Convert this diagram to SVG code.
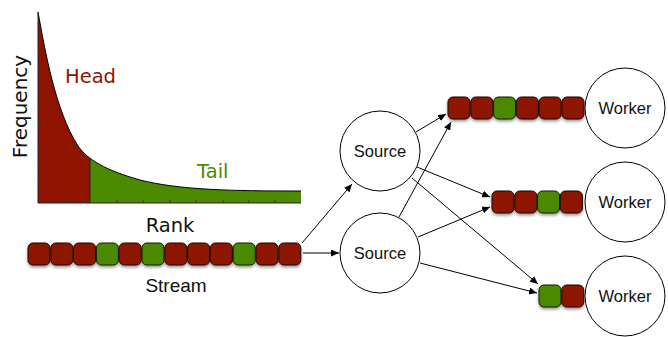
<svg xmlns="http://www.w3.org/2000/svg" width="668" height="337" viewBox="0 0 668 337">
<defs>
<style>
.r{fill:#8e1400;stroke:#1a0800;stroke-width:1}
.g{fill:#4c8a00;stroke:#0f1a00;stroke-width:1}
.node{fill:#fff;stroke:#000;stroke-width:1}
.lbl{font-family:"Liberation Sans",Arial,sans-serif;font-size:16.5px;fill:#111;text-anchor:middle}
.ch{font-family:"DejaVu Sans",sans-serif;font-size:19.5px}
.edge{stroke:#000;stroke-width:1;fill:none;marker-end:url(#ah)}
.tick{stroke:#333;stroke-width:1}
</style>
<marker id="ah" markerUnits="userSpaceOnUse" markerWidth="9" markerHeight="7" refX="8" refY="3.5" orient="auto">
<path d="M0,0 L8,3.5 L0,7 z" fill="#000"/>
</marker>
<filter id="sh" x="-20%" y="-20%" width="140%" height="160%">
<feDropShadow dx="0" dy="2" stdDeviation="1.5" flood-color="#000" flood-opacity="0.4"/>
</filter>
<clipPath id="ch"><rect x="38" y="0" width="52" height="210"/></clipPath>
<clipPath id="ct"><rect x="90" y="0" width="212" height="210"/></clipPath>
</defs>

<g id="chart">
<path clip-path="url(#ch)" fill="#8e1400" d="M38,12 C45,50 55,110 78,146 C88,160 105,170 140,180 C180,190 230,191 301,191 L301,203 L38,203 Z"/>
<path clip-path="url(#ct)" fill="#4c8a00" d="M38,12 C45,50 55,110 78,146 C88,160 105,170 140,180 C180,190 230,191 301,191 L301,203 L38,203 Z"/>
<path d="M38,12 C45,50 55,110 78,146 C88,160 105,170 140,180 C180,190 230,191 301,191" fill="none" stroke="#000" stroke-width="1"/>
<line x1="90" y1="159" x2="90" y2="203" stroke="#222" stroke-width="1"/>
<line x1="38" y1="12" x2="38" y2="203" stroke="#222" stroke-width="1"/>
<line x1="38" y1="203" x2="301" y2="203" stroke="#222" stroke-width="1"/>
<g class="tick">
<line x1="38" y1="30" x2="41" y2="30"/><line x1="38" y1="49" x2="41" y2="49"/><line x1="38" y1="68" x2="41" y2="68"/>
<line x1="38" y1="88" x2="41" y2="88"/><line x1="38" y1="107" x2="41" y2="107"/><line x1="38" y1="127" x2="41" y2="127"/>
<line x1="38" y1="146" x2="41" y2="146"/><line x1="38" y1="164" x2="41" y2="164"/><line x1="38" y1="183" x2="41" y2="183"/>
<line x1="64" y1="200" x2="64" y2="203"/><line x1="117" y1="200" x2="117" y2="203"/><line x1="143" y1="200" x2="143" y2="203"/>
<line x1="170" y1="200" x2="170" y2="203"/><line x1="196" y1="200" x2="196" y2="203"/><line x1="223" y1="200" x2="223" y2="203"/>
<line x1="249" y1="200" x2="249" y2="203"/><line x1="275" y1="200" x2="275" y2="203"/>
</g>
<text class="ch" x="65" y="83" fill="#8e1400">Head</text>
<text class="ch" x="197" y="178" fill="#4c8a00">Tail</text>
<text class="ch" x="170" y="232" fill="#111" text-anchor="middle">Rank</text>
<text class="ch" transform="translate(27,106.5) rotate(-90)" fill="#111" text-anchor="middle" style="font-size:20px">Frequency</text>
</g>

<g id="stream" filter="url(#sh)">
<rect class="r" x="28" y="243" width="22" height="22" rx="5"/>
<rect class="r" x="50.8" y="243" width="22" height="22" rx="5"/>
<rect class="r" x="73.6" y="243" width="22" height="22" rx="5"/>
<rect class="g" x="96.4" y="243" width="22" height="22" rx="5"/>
<rect class="r" x="119.2" y="243" width="22" height="22" rx="5"/>
<rect class="g" x="142" y="243" width="22" height="22" rx="5"/>
<rect class="r" x="164.8" y="243" width="22" height="22" rx="5"/>
<rect class="r" x="187.6" y="243" width="22" height="22" rx="5"/>
<rect class="r" x="210.4" y="243" width="22" height="22" rx="5"/>
<rect class="g" x="233.2" y="243" width="22" height="22" rx="5"/>
<rect class="r" x="256" y="243" width="22" height="22" rx="5"/>
<rect class="r" x="278.8" y="243" width="22" height="22" rx="5"/>
</g>
<text class="lbl" x="176" y="292" style="font-size:19px">Stream</text>

<g id="queue1" filter="url(#sh)">
<rect class="r" x="448" y="97" width="22" height="22" rx="5"/>
<rect class="r" x="470.8" y="97" width="22" height="22" rx="5"/>
<rect class="g" x="493.6" y="97" width="22" height="22" rx="5"/>
<rect class="r" x="516.4" y="97" width="22" height="22" rx="5"/>
<rect class="r" x="539.2" y="97" width="22" height="22" rx="5"/>
<rect class="r" x="562" y="97" width="22" height="22" rx="5"/>
</g>
<g id="queue2" filter="url(#sh)">
<rect class="r" x="492" y="191" width="22" height="22" rx="5"/>
<rect class="r" x="514.8" y="191" width="22" height="22" rx="5"/>
<rect class="g" x="537.6" y="191" width="22" height="22" rx="5"/>
<rect class="r" x="560.4" y="191" width="22" height="22" rx="5"/>
</g>
<g id="queue3" filter="url(#sh)">
<rect class="g" x="539" y="285" width="22" height="22" rx="5"/>
<rect class="r" x="561.8" y="285" width="22" height="22" rx="5"/>
</g>

<g id="connectors">
<line class="edge" x1="302" y1="243" x2="352" y2="184"/>
<line class="edge" x1="303" y1="253" x2="339" y2="253"/>
<line class="edge" x1="416" y1="132" x2="446" y2="114"/>
<line class="edge" x1="417" y1="167" x2="490" y2="197"/>
<line class="edge" x1="412" y1="178" x2="538" y2="284"/>
<line class="edge" x1="399" y1="217" x2="451" y2="122"/>
<line class="edge" x1="418" y1="237" x2="490" y2="207"/>
<line class="edge" x1="420" y1="263" x2="537" y2="293"/>
</g>

<g id="source1"><circle class="node" cx="380" cy="151" r="40"/><text class="lbl" x="380" y="157">Source</text></g>
<g id="source2"><circle class="node" cx="380" cy="253" r="40"/><text class="lbl" x="380" y="259">Source</text></g>
<g id="worker1"><circle class="node" cx="625" cy="108" r="40"/><text class="lbl" x="625" y="114">Worker</text></g>
<g id="worker2"><circle class="node" cx="625" cy="202" r="40"/><text class="lbl" x="625" y="208">Worker</text></g>
<g id="worker3"><circle class="node" cx="625" cy="296" r="40"/><text class="lbl" x="625" y="302">Worker</text></g>
</svg>
